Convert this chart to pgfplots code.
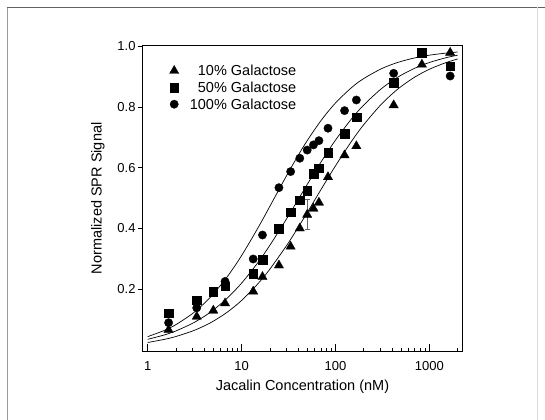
\documentclass[border=0pt]{standalone}
\usepackage{pgfplots}
\pgfplotsset{compat=1.18}
\usepackage{fontspec}
\setmainfont{Liberation Sans}
\begin{document}
\begin{tikzpicture}
\path[use as bounding box] (0bp,0bp) rectangle (545bp,420bp);
\draw[color=black!40, line width=1.2bp] (7.5bp,0bp) -- (7.5bp,412.5bp);
\draw[color=black!62, line width=1bp] (7bp,412.5bp) -- (545bp,412.5bp);
\draw[color=black!15, line width=1bp] (537.5bp,0bp) -- (537.5bp,412.5bp);
\begin{axis}[
  at={(142.7bp,68.3bp)}, anchor=south west,
  scale only axis, width=319.6bp, height=306.7bp,
  xmode=log, xmin=0.885, xmax=2245, ymin=-0.0066, ymax=1.0043,
  axis line style={line width=0.8bp},
  xtick={1,10,100,1000}, xticklabels={1,10,100,1000},
  minor xtick={2,3,4,5,6,7,8,9,20,30,40,50,60,70,80,90,200,300,400,500,600,700,800,900,2000},
  ytick={0.2,0.4,0.6,0.8,1.0}, yticklabels={0.2,0.4,0.6,0.8,1.0},
  xtick pos=bottom, ytick pos=left,
  xtick align=inside, ytick align=outside,
  major tick length=8bp, minor tick length=4bp,
  ytick style={/pgfplots/major tick length=4.5bp},
  tick style={black, line width=0.6bp},
  ticklabel style={font=\fontsize{13bp}{15bp}\selectfont},
  xticklabel style={inner sep=0pt, anchor=north, yshift=-10bp},
  yticklabel style={inner sep=0pt, anchor=east, xshift=1bp},
  xlabel={Jacalin Concentration (nM)},
  ylabel={Normalized SPR Signal},
  label style={font=\fontsize{14.5bp}{17bp}\selectfont},
  xlabel style={at={(axis description cs:0.5,0)}, anchor=north, inner sep=0pt, yshift=-27.6bp},
  ylabel style={at={(axis description cs:0,0.5)}, anchor=north, inner sep=0pt, yshift=51.7bp},
  legend style={at={(rel axis cs:0.0839,0.9335)}, anchor=north west, draw=none, fill=none,
    inner sep=0pt, outer sep=0pt, row sep=6.3bp, column sep=11bp,
    font=\fontsize{14.5bp}{17bp}\selectfont,
    nodes={inner sep=0pt, text height=10.4bp, text depth=0pt}},
  legend cell align=right,
  legend image code/.code={\draw[#1] plot coordinates {(0bp,0bp)};},
]
% fitted curves
\addplot[forget plot, black, line width=0.7bp, smooth] coordinates {
(1,0.0431)(1.5,0.0633)(2,0.0827)(3,0.1190)(4,0.1526)(5,0.1837)(7,0.2394)(10,0.3100)(15,0.4022)(20,0.4724)(30,0.5723)(40,0.6400)(50,0.6889)(70,0.7548)(100,0.8131)(150,0.8651)(200,0.8937)(300,0.9242)(400,0.9403)(500,0.9502)(700,0.9618)(1000,0.9707)(1500,0.9776)(2000,0.9812)};
\addplot[forget plot, black, line width=0.7bp, smooth] coordinates {
(1,0.0342)(1.5,0.0485)(2,0.0619)(3,0.0868)(4,0.1096)(5,0.1308)(7,0.1692)(10,0.2193)(15,0.2880)(20,0.3439)(30,0.4302)(40,0.4944)(50,0.5445)(70,0.6181)(100,0.6905)(150,0.7627)(200,0.8063)(300,0.8571)(400,0.8860)(500,0.9047)(700,0.9278)(1000,0.9466)(1500,0.9623)(2000,0.9707)};
\addplot[forget plot, black, line width=0.7bp, smooth] coordinates {
(1,0.0238)(1.5,0.0339)(2,0.0435)(3,0.0615)(4,0.0782)(5,0.0940)(7,0.1231)(10,0.1622)(15,0.2181)(20,0.2654)(30,0.3422)(40,0.4027)(50,0.4518)(70,0.5273)(100,0.6059)(150,0.6890)(200,0.7416)(300,0.8052)(400,0.8426)(500,0.8675)(700,0.8986)(1000,0.9243)(1500,0.9462)(2000,0.9580)};
% error bar
\addplot[forget plot, draw=none, mark=none,
  error bars/.cd, y dir=both, y explicit,
  error bar style={black!60, line width=0.6bp},
  error mark options={rotate=90, mark size=2.5bp, black!60, line width=0.6bp}]
  coordinates {(50,0.447) +- (0,0.049)};
% 10% triangles
\addplot[only marks, mark=triangle*, mark size=5.4bp, mark options={fill=black, draw=black, line width=0.3bp}] coordinates {
(1.67,0.065)(3.33,0.109)(5,0.129)(6.67,0.153)(13.3,0.192)(16.7,0.240)(25,0.278)(33.3,0.340)(41.7,0.400)(50,0.445)(58.3,0.465)(66.7,0.485)(83.3,0.569)(125,0.641)(167,0.671)(417,0.806)(833,0.940)(1667,0.979)};
\addlegendentry{10\% Galactose}
% 50% squares
\addplot[only marks, mark=square*, mark size=4.3bp, mark options={fill=black, draw=black, line width=0.3bp}] coordinates {
(1.67,0.120)(3.33,0.163)(5,0.191)(6.67,0.210)(13.3,0.250)(16.7,0.296)(25,0.398)(33.3,0.453)(41.7,0.493)(50,0.524)(58.3,0.581)(66.7,0.598)(83.3,0.649)(125,0.713)(167,0.766)(417,0.880)(833,0.979)(1667,0.935)};
\addlegendentry{50\% Galactose}
% 100% circles
\addplot[only marks, mark=*, mark size=4.2bp, mark options={fill=black, draw=black, line width=0.3bp}] coordinates {
(1.67,0.089)(3.33,0.138)(6.67,0.225)(13.3,0.299)(16.7,0.378)(25,0.534)(33.3,0.587)(41.7,0.631)(50,0.658)(58.3,0.675)(66.7,0.689)(83.3,0.730)(125,0.788)(167,0.823)(417,0.911)(1667,0.902)};
\addlegendentry{100\% Galactose}
\end{axis}
\end{tikzpicture}
\end{document}
